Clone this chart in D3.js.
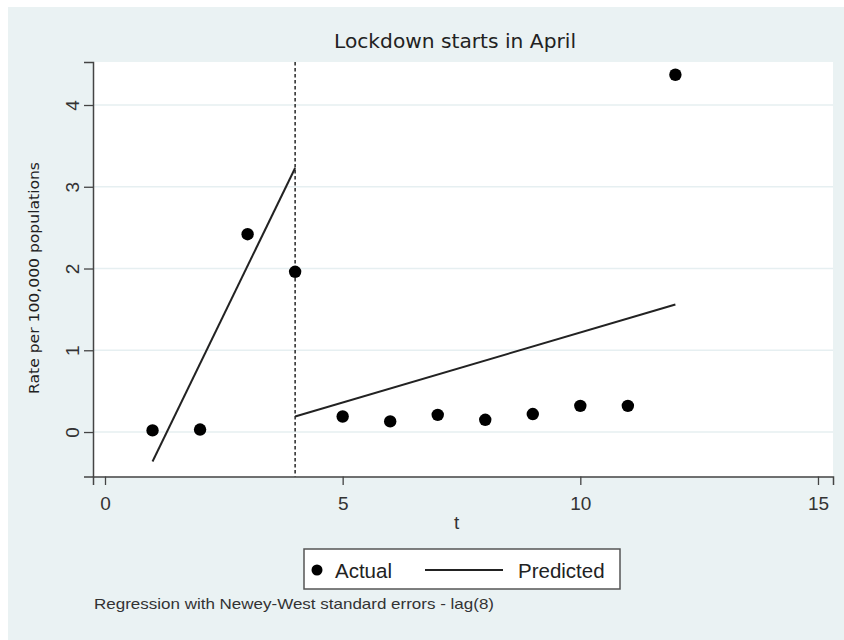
<!DOCTYPE html>
<html>
<head>
<meta charset="utf-8">
<script src="https://cdn.jsdelivr.net/npm/d3@7"></script>
<style>
  html, body { margin: 0; padding: 0; background: #ffffff; }
  svg { display: block; }
</style>
</head>
<body>
<svg id="chart" width="844" height="640"></svg>
<script>
// ---- data ----
const tActual = [1, 2, 3, 4, 5, 6, 7, 8, 9, 10, 11, 12];
const rateActual = [0.02, 0.03, 2.42, 1.96, 0.19, 0.13, 0.21, 0.15, 0.22, 0.32, 0.32, 4.37];
const predPre = [[1, -0.36], [4, 3.23]];
const predPost = [[4, 0.19], [12, 1.56]];
const interventionT = 4;
const xTicks = [0, 5, 10, 15];
const yTicks = [0, 1, 2, 3, 4];
const titleText = "Lockdown starts in April";
const yTitle = "Rate per 100,000 populations";
const xTitle = "t";
const legendLabels = ["Actual", "Predicted"];
const noteText = "Regression with Newey-West standard errors - lag(8)";

// ---- layout ----
const svg = d3.select("#chart");
const plot = { left: 93, right: 833, top: 62, bottom: 476.5 };
const x = d3.scaleLinear().domain([-0.2525, 15.316]).range([plot.left, plot.right]);
const y = d3.scaleLinear().domain([-0.544, 4.526]).range([plot.bottom, plot.top]);

// background
svg.append("rect").attr("x", 8).attr("y", 7).attr("width", 836).attr("height", 633)
  .attr("fill", "#eaf2f3");
svg.append("rect").attr("x", plot.left).attr("y", plot.top)
  .attr("width", plot.right - plot.left).attr("height", plot.bottom - plot.top)
  .attr("fill", "#ffffff");

// gridlines
svg.append("g").selectAll("line").data(yTicks).join("line")
  .attr("x1", plot.left).attr("x2", plot.right)
  .attr("y1", d => y(d)).attr("y2", d => y(d))
  .attr("stroke", "#e6eff1").attr("stroke-width", 1.5);

// y axis
const yAxis = svg.append("g").attr("transform", `translate(${plot.left},0)`)
  .call(d3.axisLeft(y).tickValues(yTicks).tickSize(9).tickFormat(d3.format("d")));
yAxis.select(".domain").attr("stroke", "#444").attr("stroke-width", 1.5);
yAxis.selectAll(".tick line").attr("stroke", "#444").attr("stroke-width", 1.3);
yAxis.selectAll(".tick text")
  .attr("x", null).attr("dy", null).attr("y", null)
  .attr("transform", "translate(-14,0) rotate(-90)")
  .attr("text-anchor", "middle")
  .attr("font-family", "'Liberation Sans', Arial, sans-serif")
  .attr("font-size", 19).attr("fill", "#333");

// x axis
const xAxis = svg.append("g").attr("transform", `translate(0,${plot.bottom})`)
  .call(d3.axisBottom(x).tickValues(xTicks).tickSize(8.5).tickFormat(d3.format("d")));
xAxis.select(".domain").attr("stroke", "#444").attr("stroke-width", 1.5);
xAxis.selectAll(".tick line").attr("stroke", "#444").attr("stroke-width", 1.3);
xAxis.selectAll(".tick text")
  .attr("y", 33.5).attr("dy", null)
  .attr("font-family", "'Liberation Sans', Arial, sans-serif")
  .attr("font-size", 19).attr("fill", "#333");

// axis titles
svg.append("text").attr("x", x(7.4)).attr("y", 529)
  .attr("text-anchor", "middle")
  .attr("font-family", "'Liberation Sans', Arial, sans-serif")
  .attr("font-size", 19).attr("fill", "#333").text(xTitle);

svg.append("text")
  .attr("transform", "translate(39,278) rotate(-90)")
  .attr("text-anchor", "middle")
  .attr("font-family", "'DejaVu Sans', Tahoma, sans-serif")
  .attr("font-size", 14.5).attr("fill", "#222")
  .attr("textLength", 232).attr("lengthAdjust", "spacingAndGlyphs")
  .text(yTitle);

// title
svg.append("text").attr("x", 455).attr("y", 48)
  .attr("text-anchor", "middle")
  .attr("font-family", "'DejaVu Sans', Tahoma, sans-serif")
  .attr("font-size", 19.5).attr("fill", "#222")
  .attr("textLength", 242).attr("lengthAdjust", "spacingAndGlyphs")
  .text(titleText);

// intervention line
svg.append("line")
  .attr("x1", x(interventionT)).attr("x2", x(interventionT))
  .attr("y1", plot.top).attr("y2", plot.bottom)
  .attr("stroke", "#333").attr("stroke-width", 1.6)
  .attr("stroke-dasharray", "3.5,2.5");

// predicted lines
const line = d3.line().x(d => x(d[0])).y(d => y(d[1]));
[predPre, predPost].forEach(seg => {
  svg.append("path").datum(seg).attr("d", line)
    .attr("fill", "none").attr("stroke", "#222").attr("stroke-width", 2);
});

// actual points
svg.append("g").selectAll("circle").data(tActual.map((t, i) => [t, rateActual[i]])).join("circle")
  .attr("cx", d => x(d[0])).attr("cy", d => y(d[1])).attr("r", 6.2)
  .attr("fill", "#000");

// legend
const lg = svg.append("g");
lg.append("rect").attr("x", 304).attr("y", 549).attr("width", 316).attr("height", 40)
  .attr("fill", "#ffffff").attr("stroke", "#555").attr("stroke-width", 1.5);
lg.append("circle").attr("cx", 317).attr("cy", 570).attr("r", 5.5).attr("fill", "#000");
lg.append("text").attr("x", 335).attr("y", 577.5)
  .attr("font-family", "'Liberation Sans', Arial, sans-serif")
  .attr("font-size", 20.5).attr("fill", "#222").text(legendLabels[0]);
lg.append("line").attr("x1", 425).attr("x2", 503).attr("y1", 570).attr("y2", 570)
  .attr("stroke", "#222").attr("stroke-width", 2);
lg.append("text").attr("x", 518).attr("y", 577.5)
  .attr("font-family", "'Liberation Sans', Arial, sans-serif")
  .attr("font-size", 20.5).attr("fill", "#222").text(legendLabels[1]);

// note
svg.append("text").attr("x", 94).attr("y", 609)
  .attr("font-family", "'Liberation Sans', Arial, sans-serif")
  .attr("font-size", 15).attr("fill", "#333")
  .attr("textLength", 400).attr("lengthAdjust", "spacingAndGlyphs")
  .text(noteText);
</script>
</body>
</html>
